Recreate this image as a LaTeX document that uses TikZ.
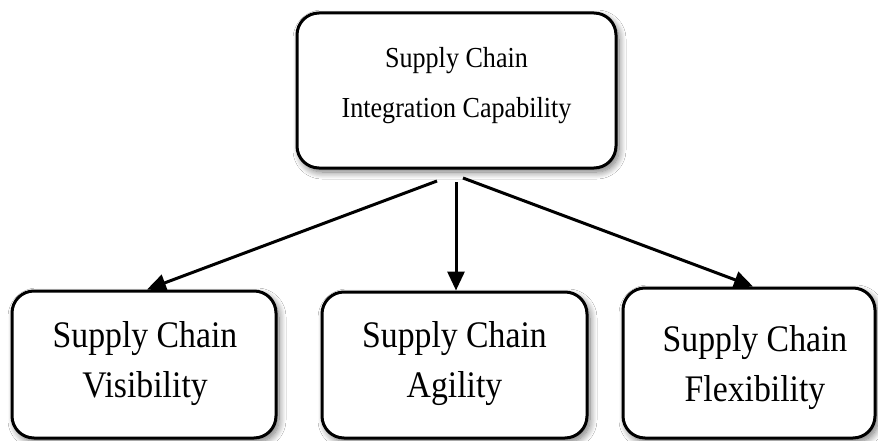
\documentclass[tikz,border=0pt]{standalone}
\usepackage{fontspec}
\setmainfont{Liberation Serif}
\newfontfamily\condfont[FakeStretch=0.9]{Liberation Serif}
\usetikzlibrary{shadows.blur,arrows.meta,calc}
\begin{document}
\begin{tikzpicture}[x=1pt,y=-1pt,
  box/.style={draw=black, line width=3pt, rounded corners=22pt, fill=white,
    blur shadow={shadow xshift=3pt,shadow yshift=-4pt,shadow blur steps=12,shadow blur radius=7pt,shadow opacity=55}},
  toptext/.style={align=center, font=\condfont\fontsize{29}{50}\selectfont},
  bottext/.style={align=center, font=\condfont\fontsize{37.5}{50}\selectfont},
  arr/.style={line width=3pt, -{Triangle[length=19pt,width=17pt]}}]
\useasboundingbox (0,0) rectangle (878,441);
\fill[white] (0,0) rectangle (878,441);
% boxes
\node[box, minimum width=319pt, minimum height=155pt] (top) at (456.5,90.5) {};
\node[box, minimum width=264pt, minimum height=147pt] (vis) at (144,364.5) {};
\node[box, minimum width=265pt, minimum height=146pt] (agi) at (454.5,365) {};
\node[box, minimum width=252pt, minimum height=150pt] (flex) at (749,363) {};
% texts
\node[toptext] (topT) at (456.5,86) {Supply Chain\\Integration Capability};
\node[bottext] (visT) at (145,364) {Supply Chain\\Visibility};
\node[bottext] (agiT) at (454.5,364) {Supply Chain\\Agility};
\node[bottext] (flexT) at (755,368) {Supply Chain\\Flexibility};
% arrows
\coordinate (s1) at (437,181);
\coordinate (s2) at (456,182);
\coordinate (s3) at (463,178);
\draw[arr] (s1) -- ([xshift=3pt]vis.north);
\draw[arr] (s2) -- (s2 |- agi.north);
\draw[arr] (s3) -- ([xshift=4pt]flex.north);
\end{tikzpicture}
\end{document}
